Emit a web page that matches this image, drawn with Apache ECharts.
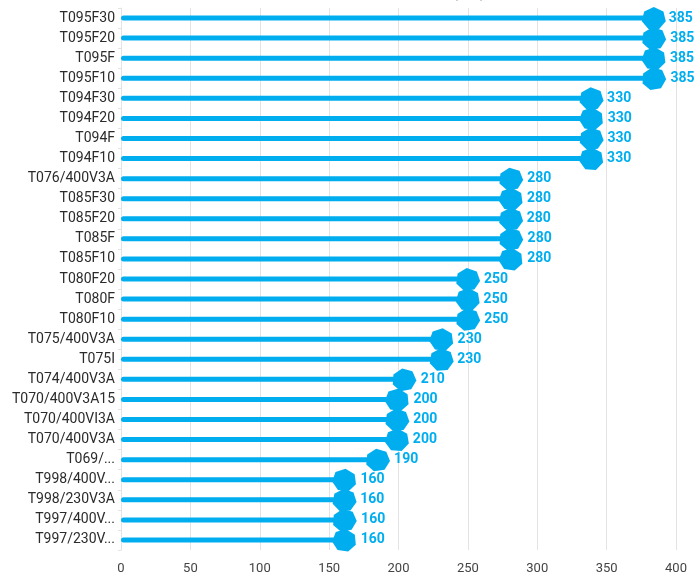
<!DOCTYPE html>
<html>
<head>
<meta charset="utf-8">
<script src="https://cdn.jsdelivr.net/npm/echarts@6/dist/echarts.min.js"></script>
<style>
  html, body { margin: 0; padding: 0; background: #fff; }
  #main { width: 696px; height: 577px; }
</style>
</head>
<body>
<div id="main"></div>
<script>
var models = ['T095F30', 'T095F20', 'T095F', 'T095F10', 'T094F30', 'T094F20', 'T094F', 'T094F10',
  'T076/400V3A', 'T085F30', 'T085F20', 'T085F', 'T085F10', 'T080F20', 'T080F', 'T080F10',
  'T075/400V3A', 'T075I', 'T074/400V3A', 'T070/400V3A15', 'T070/400VI3A', 'T070/400V3A',
  'T069/...', 'T998/400V...', 'T998/230V3A', 'T997/400V...', 'T997/230V...'];
// printed values
var powerLabel = [385, 385, 385, 385, 330, 330, 330, 330,
  280, 280, 280, 280, 280, 250, 250, 250,
  230, 230, 210, 200, 200, 200,
  190, 160, 160, 160, 160];
// positions of the marks
var power = [384, 384, 384, 384, 339, 339, 339, 339,
  281, 281, 281, 281, 281, 250, 250, 250,
  231, 231, 204, 199, 199, 199,
  185, 161, 161, 161, 161];
var xTicks = [0, 50, 100, 150, 200, 250, 300, 350, 400];
var rot = [0, 8, -6, 10, 4, -8, 6, -4, 8, -6, 4, 10, -8, 6, -4, 8,
  -6, 4, 10, -8, 6, -4, 8, -6, 4, 10, -8];

var blue = '#00aeef';

// heptagon marker
var pts = [];
for (var i = 0; i < 7; i++) {
  var a = -Math.PI / 2 + i * 2 * Math.PI / 7;
  pts.push((50 + 50 * Math.cos(a)).toFixed(1) + ',' + (50 + 50 * Math.sin(a)).toFixed(1));
}
var hepta = 'path://M' + pts.join('L') + 'Z';

var chart = echarts.init(document.getElementById('main'));
var option = {
  animation: false,
  title: {
    text: 'Rated power (kW)',
    left: 354,
    top: -20,
    textStyle: {fontFamily: 'Roboto', fontSize: 16, fontWeight: 'normal', color: '#333'}
  },
  grid: {left: 121, right: 20, top: 8, bottom: 27},
  xAxis: {
    type: 'value',
    min: 0,
    max: 400,
    interval: 50,
    axisLine: {show: false},
    axisTick: {show: false},
    splitLine: {lineStyle: {color: '#e3e3e3', width: 1}},
    axisLabel: {
      color: '#444', fontFamily: 'Roboto', fontSize: 13, margin: 12,
      formatter: function (v) { return xTicks.indexOf(v) >= 0 ? String(v) : ''; }
    }
  },
  yAxis: {
    type: 'category',
    inverse: true,
    data: models,
    axisLine: {show: true, lineStyle: {color: '#e3e3e3'}},
    axisTick: {show: true, length: 3, lineStyle: {color: '#e3e3e3'}},
    axisLabel: {color: '#2b2b2b', fontFamily: 'Roboto', fontSize: 14, margin: 6}
  },
  series: [
    {
      type: 'bar',
      data: power,
      barWidth: 5,
      itemStyle: {color: blue, borderRadius: 2.5},
      z: 2
    },
    {
      type: 'scatter',
      data: power.map(function (v, i) {
        return {value: [v, i, powerLabel[i]], symbolRotate: rot[i]};
      }),
      encode: {x: 0, y: 1},
      symbol: hepta,
      symbolSize: [24, 22],
      itemStyle: {color: blue, opacity: 1},
      label: {
        show: true,
        position: 'right',
        distance: 3,
        color: blue,
        fontFamily: 'Roboto',
        fontWeight: 'bold',
        fontSize: 14,
        formatter: function (p) { return p.value[2]; }
      },
      z: 3
    }
  ]
};
chart.setOption(option);
</script>
</body>
</html>
